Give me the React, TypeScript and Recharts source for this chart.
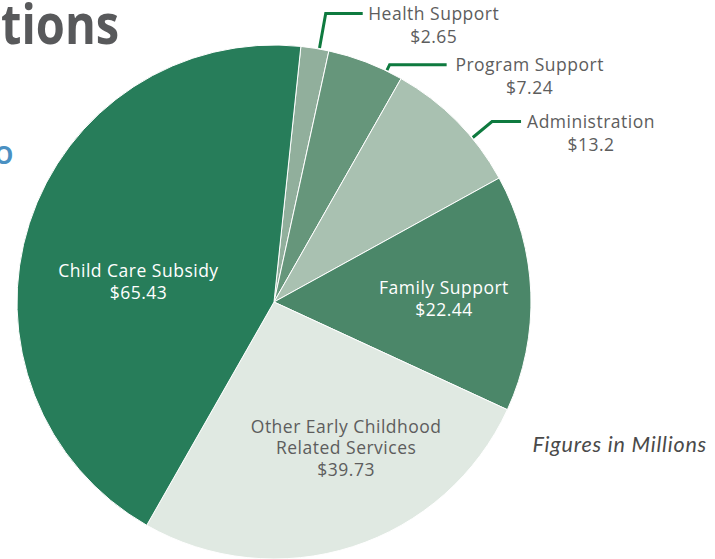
import React from 'react';
import { PieChart, Pie, Cell } from 'recharts';

const names = [
  'Health Support',
  'Program Support',
  'Administration',
  'Family Support',
  'Other Early Childhood Related Services',
  'Child Care Subsidy',
];
const values = [2.65, 7.24, 13.2, 22.44, 39.73, 65.43];
const colours = ['#91af9c', '#66967b', '#a9c1b1', '#4b8769', '#e0e9e2', '#277d5a'];

const data = names.map((name, i) => ({ name, value: values[i] }));

// label layout: outer labels get a leader line, inner ones sit in the slice
const outerLayout = {
  'Health Support': { shift: -1, elbow: 36, run: 37, centre: 71 },
  'Program Support': { shift: -5, elbow: 7, run: 57, centre: 83 },
  Administration: { shift: -5, elbow: 26, run: 29, centre: 70 },
};
const innerLayout = {
  'Family Support': { shift: -1, radius: 170, lines: ['Family Support'], fill: '#fff' },
  'Other Early Childhood Related Services': {
    shift: 8.5,
    radius: 163,
    lines: ['Other Early Childhood', 'Related Services'],
    fill: '#5d5d5d',
  },
  'Child Care Subsidy': { shift: 9.5, radius: 137, lines: ['Child Care Subsidy'], fill: '#fff' },
};

const RAD = Math.PI / 180;
const polar = (cx, cy, r, angle) => ({
  x: cx + r * Math.cos(-angle * RAD),
  y: cy + r * Math.sin(-angle * RAD),
});

const renderLabel = (props) => {
  const { cx, cy, midAngle, outerRadius, name, value } = props;
  const font = { fontFamily: 'Open Sans', fontSize: 17.5, letterSpacing: 0.5 };
  const outer = outerLayout[name];
  if (outer) {
    const a = midAngle + outer.shift;
    const p1 = polar(cx, cy, outerRadius + 1, a);
    const p2 = polar(cx, cy, outerRadius + outer.elbow, a);
    const p3 = { x: p2.x + outer.run, y: p2.y };
    const tx = p3.x + outer.centre;
    return (
      <g>
        <polyline
          points={`${p1.x},${p1.y} ${p2.x},${p2.y} ${p3.x},${p3.y}`}
          fill="none"
          stroke="#0e7a3f"
          strokeWidth={3}
        />
        <text x={tx} y={p3.y + 6} textAnchor="middle" fill="#5d5d5d" {...font}>
          {name}
        </text>
        <text x={tx} y={p3.y + 29} textAnchor="middle" fill="#5d5d5d" {...font}>
          {`$${value}`}
        </text>
      </g>
    );
  }
  const inner = innerLayout[name];
  const p = polar(cx, cy, inner.radius, midAngle + inner.shift);
  const lines = [...inner.lines, `$${value}`];
  const lh = 21.5;
  const top = p.y - ((lines.length - 1) * lh) / 2 + 6;
  return (
    <g>
      {lines.map((l, i) => (
        <text key={i} x={p.x} y={top + i * lh} textAnchor="middle" fill={inner.fill} {...font}>
          {l}
        </text>
      ))}
    </g>
  );
};

export default function App() {
  return (
    <div style={{ position: 'absolute', left: 0, top: 0, width: 715, height: 559 }}>
      <PieChart width={715} height={559} margin={{ top: 0, right: 0, bottom: 0, left: 0 }}>
        <Pie
          data={data}
          dataKey="value"
          nameKey="name"
          cx={274}
          cy={302}
          outerRadius={257}
          startAngle={84}
          endAngle={-276}
          stroke="#fff"
          strokeWidth={1}
          label={renderLabel}
          labelLine={false}
          isAnimationActive={false}
        >
          {data.map((d, i) => (
            <Cell key={d.name} fill={colours[i]} />
          ))}
        </Pie>
      </PieChart>
      <svg
        width={715}
        height={559}
        style={{ position: 'absolute', left: 0, top: 0, pointerEvents: 'none' }}
      >
        <text
          transform="translate(1,44) scale(0.84,1)"
          fontFamily="Open Sans"
          fontWeight={700}
          fontSize={56}
          fill="#58595b"
        >
          tions
        </text>
        <text x={-6} y={164} fontFamily="Open Sans" fontWeight={600} fontSize={32} fill="#4a90c2">
          o
        </text>
        <text
          x={707}
          y={452}
          textAnchor="end"
          fontFamily="Lato"
          fontStyle="italic"
          fontSize={21.5}
          letterSpacing={0.8}
          fill="#4a4a4a"
        >
          Figures in Millions
        </text>
      </svg>
    </div>
  );
}
